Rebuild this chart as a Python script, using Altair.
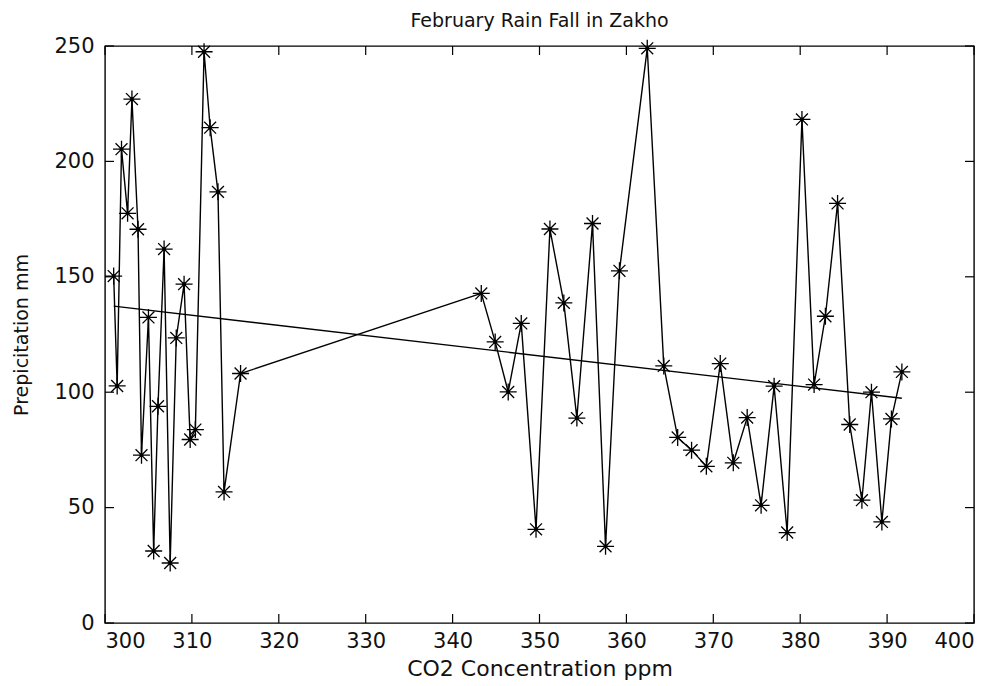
import altair as alt
import pandas as pd

# CO2 concentration (ppm) and February precipitation (mm)
co2 = [301.0, 301.4, 301.9, 302.6, 303.1, 303.8, 304.2, 305.0, 305.6, 306.1,
       306.8, 307.5, 308.2, 309.1, 309.8, 310.4, 311.4, 312.1, 313.0, 313.7,
       315.6,
       343.3, 344.9, 346.4, 347.9, 349.6, 351.2, 352.8, 354.3, 356.1, 357.6,
       359.2, 362.4, 364.3, 365.9, 367.5, 369.2, 370.8, 372.3, 373.9, 375.5,
       377.0, 378.5, 380.2, 381.6, 382.9, 384.3, 385.7, 387.1, 388.2, 389.4,
       390.5, 391.7]
rain = [150.3, 102.7, 205.3, 177.5, 227.0, 170.6, 72.7, 132.4, 31.2, 93.9,
        162.0, 26.0, 123.5, 146.8, 79.5, 83.8, 247.5, 214.6, 186.8, 56.8,
        108.1,
        142.8, 121.8, 100.1, 129.8, 40.6, 170.7, 138.7, 88.8, 173.1, 33.2,
        152.6, 249.0, 111.4, 80.4, 74.9, 67.9, 112.4, 69.4, 89.0, 51.0,
        102.6, 39.2, 218.2, 103.3, 132.9, 181.8, 86.0, 53.2, 100.0, 43.8,
        88.4, 108.8]

# Linear trend line end points
trend_x = [301.0, 391.7]
trend_y = [137.3, 97.4]

x_ticks = [300, 310, 320, 330, 340, 350, 360, 370, 380, 390, 400]
y_ticks = [0, 50, 100, 150, 200, 250]

W, H = 869, 577
TICK = 9
FONT = "DejaVu Sans"

df = pd.DataFrame({"co2": co2, "rain": rain, "i": list(range(len(co2)))})
trend = pd.DataFrame({"co2": trend_x, "rain": trend_y})
xt = pd.DataFrame({"t": x_ticks})
yt = pd.DataFrame({"t": y_ticks})

xscale = alt.Scale(domain=[300, 400], nice=False, zero=False)
yscale = alt.Scale(domain=[0, 250], nice=False, zero=False)

xaxis = alt.Axis(values=x_ticks, ticks=False, domain=False, grid=False,
                 labelFont=FONT, labelFontSize=21, labelColor="#111111",
                 labelPadding=7, title="CO2 Concentration ppm",
                 titleFont=FONT, titleFontSize=22, titleFontWeight="normal",
                 titleColor="#111111", titlePadding=7)
yaxis = alt.Axis(values=y_ticks, ticks=False, domain=False, grid=False,
                 labelFont=FONT, labelFontSize=21, labelColor="#111111",
                 labelPadding=11, title="Prepicitation mm",
                 titleFont=FONT, titleFontSize=19, titleFontWeight="normal",
                 titleColor="#111111", titlePadding=22)

base = alt.Chart(df)

line = base.mark_line(color="black", strokeWidth=1.4).encode(
    x=alt.X("co2:Q", scale=xscale, axis=xaxis),
    y=alt.Y("rain:Q", scale=yscale, axis=yaxis),
    order="i:Q",
)

star = "M-1,0L1,0M0,-1L0,1M-0.7,-0.7L0.7,0.7M-0.7,0.7L0.7,-0.7"
points = base.mark_point(shape=star, filled=False, color="black", size=289,
                         strokeWidth=1.3, opacity=1).encode(
    x=alt.X("co2:Q", scale=xscale),
    y=alt.Y("rain:Q", scale=yscale),
)
dots = base.mark_circle(color="black", size=14, opacity=1).encode(
    x=alt.X("co2:Q", scale=xscale),
    y=alt.Y("rain:Q", scale=yscale),
)

trend_line = alt.Chart(trend).mark_line(color="black", strokeWidth=1.4).encode(
    x=alt.X("co2:Q", scale=xscale),
    y=alt.Y("rain:Q", scale=yscale),
)

bt = alt.Chart(xt).mark_rule(color="black", strokeWidth=1.2).encode(
    x=alt.X("t:Q", scale=xscale), y=alt.value(H), y2=alt.value(H - TICK))
tt = alt.Chart(xt).mark_rule(color="black", strokeWidth=1.2).encode(
    x=alt.X("t:Q", scale=xscale), y=alt.value(0), y2=alt.value(TICK))
lt = alt.Chart(yt).mark_rule(color="black", strokeWidth=1.2).encode(
    y=alt.Y("t:Q", scale=yscale), x=alt.value(0), x2=alt.value(TICK))
rt = alt.Chart(yt).mark_rule(color="black", strokeWidth=1.2).encode(
    y=alt.Y("t:Q", scale=yscale), x=alt.value(W - TICK), x2=alt.value(W))

chart = alt.layer(line, trend_line, points, dots, bt, tt, lt, rt).properties(
    width=W, height=H,
    title=alt.TitleParams("February Rain Fall in Zakho", font=FONT,
                          fontSize=19, fontWeight="normal", color="#111111",
                          anchor="middle", offset=4),
    autosize=alt.AutoSizeParams(type="none"),
    padding={"left": 105, "top": 46, "right": 23, "bottom": 63},
    background="white",
).configure_view(stroke="black", strokeWidth=1.4)

chart.save("out.html", embed_options={"renderer": "svg", "actions": False})
